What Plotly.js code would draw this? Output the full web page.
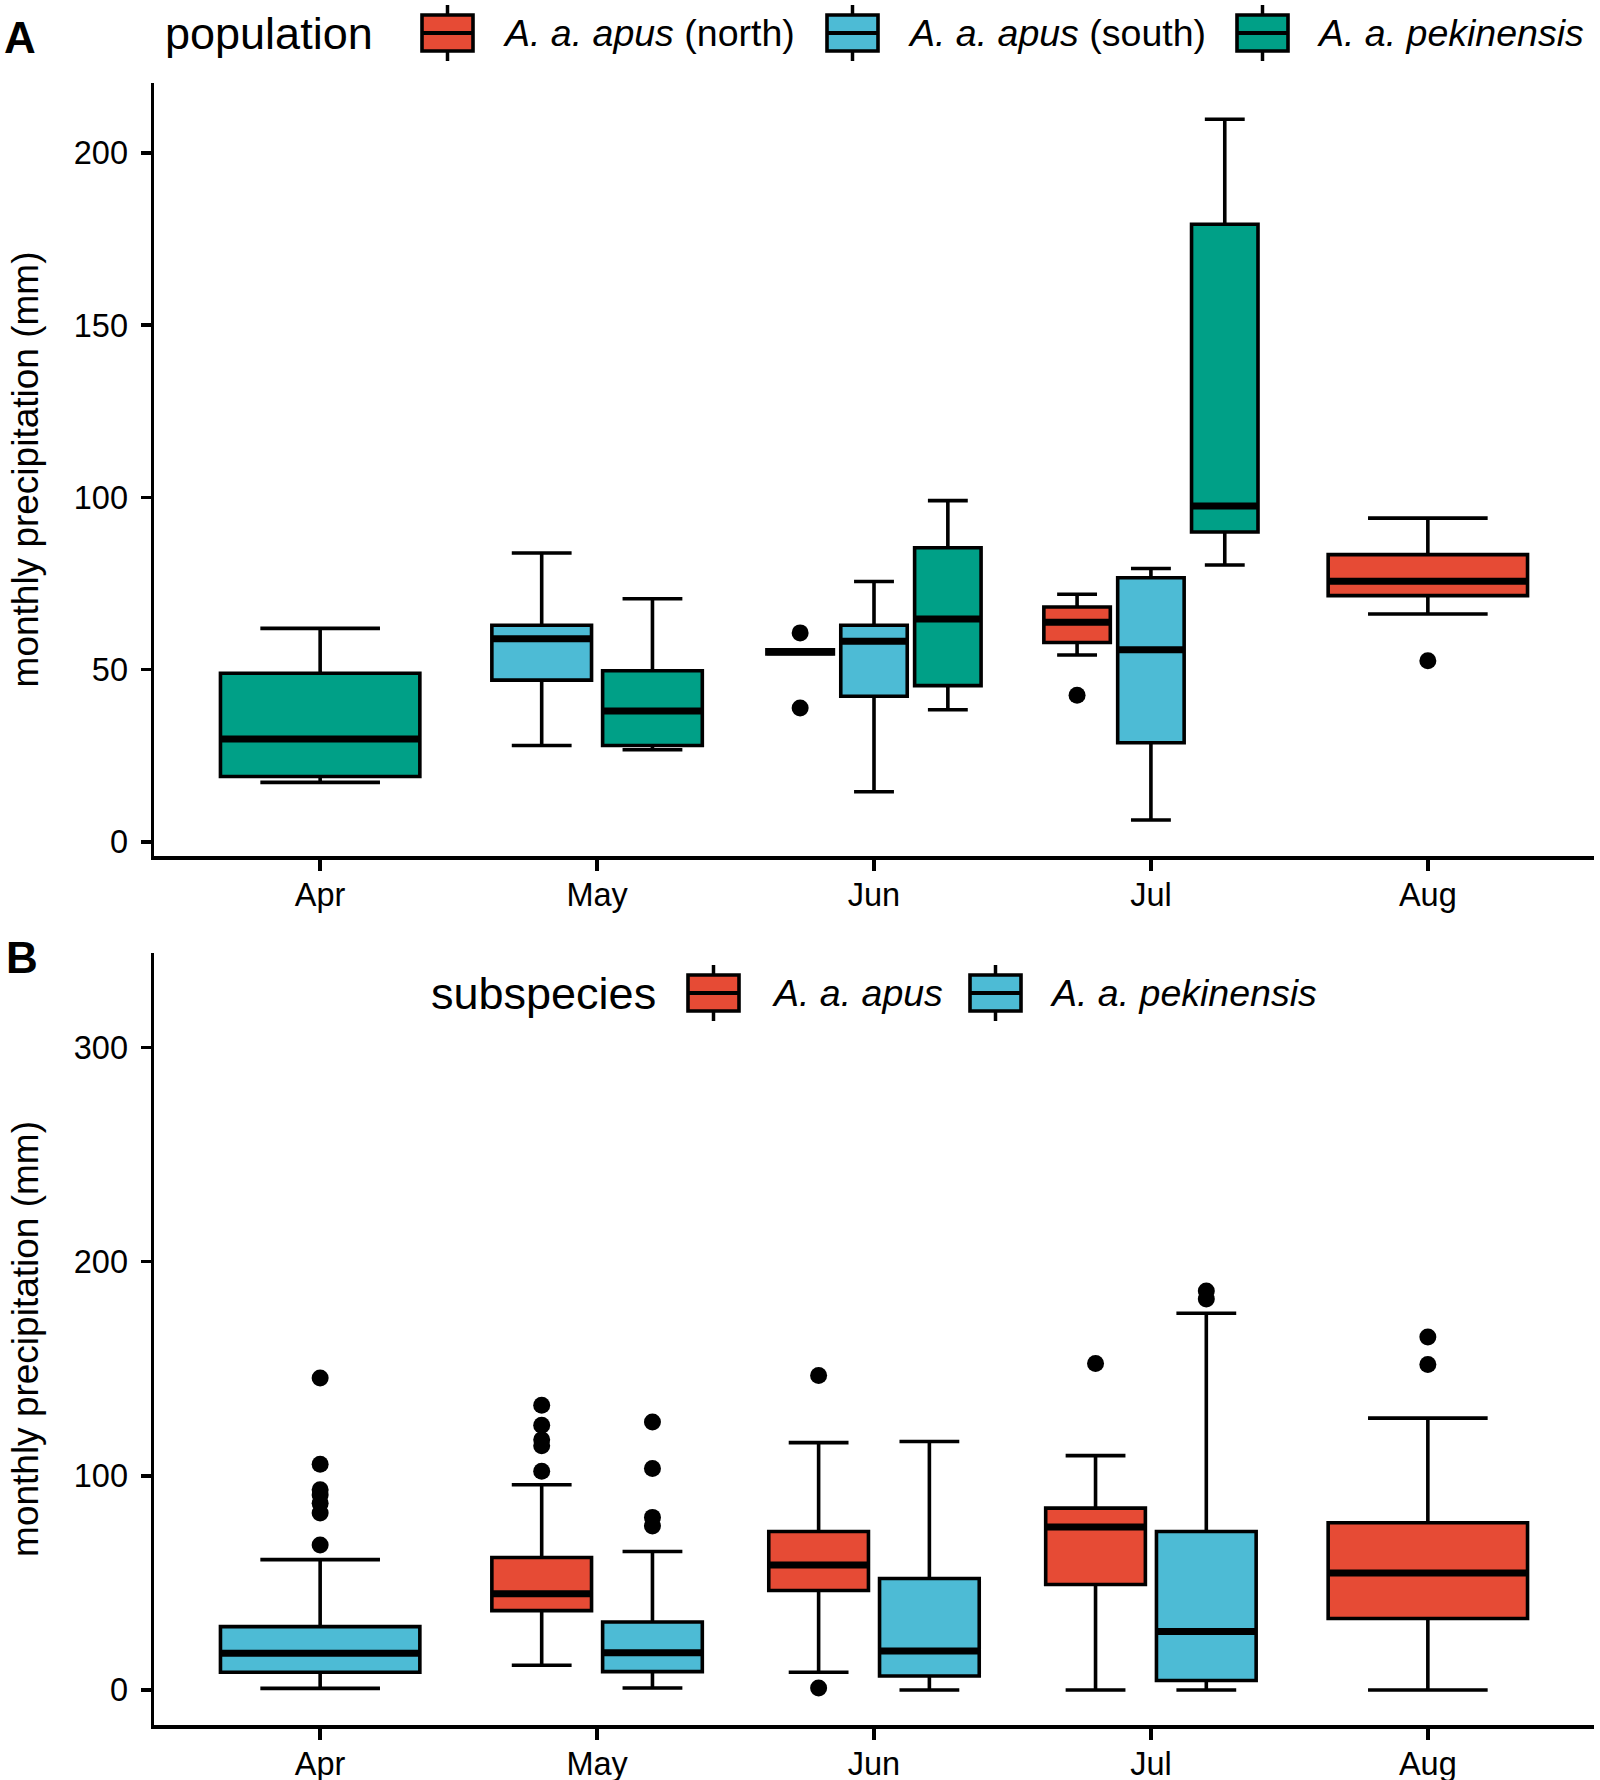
<!DOCTYPE html>
<html>
<head>
<meta charset="utf-8">
<script src="https://cdn.plot.ly/plotly-3.0.1.min.js"></script>
<style>body{margin:0;background:#fff}</style>
</head>
<body>
<div id="chart" style="width:1600px;height:1780px"></div>
<script>
// months on the x axis
var months = ["Apr", "May", "Jun", "Jul", "Aug"];
var red = "#E64B35", blue = "#4DBBD5", green = "#00A087";

// Panel A: population boxes (monthly precipitation, mm)
var northMonths = ["Jun", "Jul", "Aug"];
var northLow  = [54.6, 54.3, 66.2];
var northQ1   = [54.6, 57.9, 71.5];
var northMed  = [55.2, 63.8, 75.7];
var northQ3   = [55.8, 68.2, 83.4];
var northHigh = [55.8, 71.9, 94.0];
var northOut  = [[60.7, 38.9], [42.6], [52.6]];

var southMonths = ["May", "Jun", "Jul"];
var southLow  = [28.0, 14.6, 6.4];
var southQ1   = [47.0, 42.3, 28.8];
var southMed  = [59.0, 58.3, 55.8];
var southQ3   = [62.9, 62.9, 76.7];
var southHigh = [83.9, 75.6, 79.4];
var southOut  = [[], [], []];

var pekMonths = ["Apr", "May", "Jun", "Jul"];
var pekLow  = [17.3, 26.8, 38.4, 80.4];
var pekQ1   = [19.0, 28.0, 45.4, 90.0];
var pekMed  = [29.9, 38.0, 64.7, 97.5];
var pekQ3   = [49.0, 49.7, 85.4, 179.3];
var pekHigh = [62.0, 70.6, 99.1, 209.8];
var pekOut  = [[], [], [], []];

// Panel B: subspecies boxes
var apusMonths = ["May", "Jun", "Jul", "Aug"];
var apusLow  = [11.6, 8.3, 0, 0];
var apusQ1   = [37.1, 46.5, 49.3, 33.4];
var apusMed  = [45.0, 58.4, 76.1, 54.6];
var apusQ3   = [61.9, 74.0, 84.9, 78.1];
var apusHigh = [95.8, 115.5, 109.4, 126.9];
var apusOut  = [[132.9, 123.6, 116.8, 114.0, 102.1], [146.8, 1.0], [152.4], [164.8, 151.9]];

var subPekMonths = ["Apr", "May", "Jun", "Jul"];
var subPekLow  = [0.8, 1.0, 0, 0];
var subPekQ1   = [8.3, 8.6, 6.6, 4.5];
var subPekMed  = [17.2, 17.4, 18.2, 27.3];
var subPekQ3   = [29.6, 31.8, 52.1, 74.0];
var subPekHigh = [60.9, 64.7, 116.0, 175.9];
var subPekOut  = [[145.6, 105.4, 93.5, 91.0, 87.2, 82.6, 67.7], [125.1, 103.4, 80.6, 76.6], [], [186.3, 182.5]];

var groupsA = [
  {color: red, months: northMonths, low: northLow, q1: northQ1, med: northMed, q3: northQ3, high: northHigh, out: northOut},
  {color: blue, months: southMonths, low: southLow, q1: southQ1, med: southMed, q3: southQ3, high: southHigh, out: southOut},
  {color: green, months: pekMonths, low: pekLow, q1: pekQ1, med: pekMed, q3: pekQ3, high: pekHigh, out: pekOut}
];
var groupsB = [
  {color: red, months: apusMonths, low: apusLow, q1: apusQ1, med: apusMed, q3: apusQ3, high: apusHigh, out: apusOut},
  {color: blue, months: subPekMonths, low: subPekLow, q1: subPekQ1, med: subPekMed, q3: subPekQ3, high: subPekHigh, out: subPekOut}
];

// dodge boxes like ggplot: each month splits 0.8 between the groups present
function buildPanel(groups, xa, ya) {
  var traces = [];
  var medX = [], medY = [], outX = [], outY = [];
  months.forEach(function(m, mi) {
    var present = groups.filter(function(g) { return g.months.indexOf(m) >= 0; });
    var n = present.length;
    var slot = 0.8 / n, w = slot * 0.9;
    present.forEach(function(g, k) {
      var i = g.months.indexOf(m);
      var pos = mi + 1 + (k - (n - 1) / 2) * slot;
      traces.push({
        type: "box", x: [pos],
        q1: [g.q1[i]], median: [g.med[i]], q3: [g.q3[i]],
        lowerfence: [g.low[i]], upperfence: [g.high[i]],
        width: w, whiskerwidth: 0.6, boxpoints: false,
        fillcolor: g.color, line: {color: "black", width: 3.6},
        xaxis: xa, yaxis: ya, showlegend: false, hoverinfo: "skip"
      });
      medX.push(pos - w / 2, pos + w / 2, null);
      medY.push(g.med[i], g.med[i], null);
      g.out[i].forEach(function(v) { outX.push(pos); outY.push(v); });
    });
  });
  // thick median bar
  traces.push({type: "scatter", mode: "lines", x: medX, y: medY,
    line: {color: "black", width: 7}, xaxis: xa, yaxis: ya, showlegend: false, hoverinfo: "skip"});
  traces.push({type: "scatter", mode: "markers", x: outX, y: outY,
    marker: {color: "black", size: 17}, xaxis: xa, yaxis: ya, showlegend: false, hoverinfo: "skip"});
  return traces;
}

var data = buildPanel(groupsA, "x", "y").concat(buildPanel(groupsB, "x2", "y2"));

// hand drawn legends (ggplot style keys)
function px(x) { return x / 1600; }
function py(y) { return 1 - y / 1780; }

var shapes = [];
var annotations = [];
function legendKey(color, left, top) {
  var w = 51, h = 36, cx = left + w / 2;
  shapes.push({type: "line", xref: "paper", yref: "paper", x0: px(cx), x1: px(cx), y0: py(top - 10), y1: py(top + h + 10), line: {color: "black", width: 3.5}});
  shapes.push({type: "rect", xref: "paper", yref: "paper", x0: px(left), x1: px(left + w), y0: py(top), y1: py(top + h), fillcolor: color, line: {color: "black", width: 3.6}});
  shapes.push({type: "line", xref: "paper", yref: "paper", x0: px(left), x1: px(left + w), y0: py(top + h / 2), y1: py(top + h / 2), line: {color: "black", width: 4}});
}
function label(text, left, cy, size, bold) {
  annotations.push({text: bold ? "<b>" + text + "</b>" : text, xref: "paper", yref: "paper",
    x: px(left), y: py(cy), xanchor: "left", yanchor: "middle", showarrow: false,
    font: {size: size, color: "black"}});
}

label("A", 2, 37, 44, true);
label("population", 163, 33, 45);
legendKey(red, 422, 15);
label("<i>A. a. apus</i> (north)", 501, 33, 37.5);
legendKey(blue, 827, 15);
label("<i>A. a. apus</i> (south)", 906, 33, 37.5);
legendKey(green, 1237, 15);
label("<i>A. a. pekinensis</i>", 1315, 33, 37.5);

label("B", 4, 957, 44, true);
label("subspecies", 429, 993, 45);
legendKey(red, 688, 975);
label("<i>A. a. apus</i>", 770, 993, 37.5);
legendKey(blue, 970, 975);
label("<i>A. a. pekinensis</i>", 1048, 993, 37.5);

var xCommon = {
  range: [0.4, 5.6], tickvals: [1, 2, 3, 4, 5], ticktext: months,
  showline: true, linecolor: "black", linewidth: 3.5, mirror: false,
  ticks: "outside", ticklen: 11, tickwidth: 3.5, tickcolor: "black",
  ticklabelstandoff: -4,
  tickfont: {size: 32.5}, showgrid: false, zeroline: false,
  domain: [154 / 1600, 1594 / 1600]
};
function yAxis(range, ticks, top, bottom) {
  return {
    range: range, tickvals: ticks,
    showline: true, linecolor: "black", linewidth: 3.5,
    ticks: "outside", ticklen: 10, tickwidth: 3.5, tickcolor: "black",
    ticklabelstandoff: 6,
    tickfont: {size: 32.5}, showgrid: false, zeroline: false,
    title: {text: "monthly precipitation (mm)", font: {size: 37}, standoff: 25},
    domain: [1 - bottom / 1780, 1 - top / 1780]
  };
}

var layout = {
  width: 1600, height: 1780,
  margin: {l: 0, r: 0, t: 0, b: 0},
  paper_bgcolor: "white", plot_bgcolor: "white",
  font: {family: "Liberation Sans, Arial, Helvetica, sans-serif", color: "black"},
  showlegend: false,
  xaxis: Object.assign({anchor: "y"}, xCommon),
  yaxis: Object.assign({anchor: "x"}, yAxis([-4.06, 220.3], [0, 50, 100, 150, 200], 83, 856)),
  xaxis2: Object.assign({anchor: "y2"}, xCommon),
  yaxis2: Object.assign({anchor: "x2"}, yAxis([-16.3, 344], [0, 100, 200, 300], 953, 1725)),
  shapes: shapes,
  annotations: annotations
};

Plotly.newPlot("chart", data, layout, {staticPlot: true});
</script>
</body>
</html>
